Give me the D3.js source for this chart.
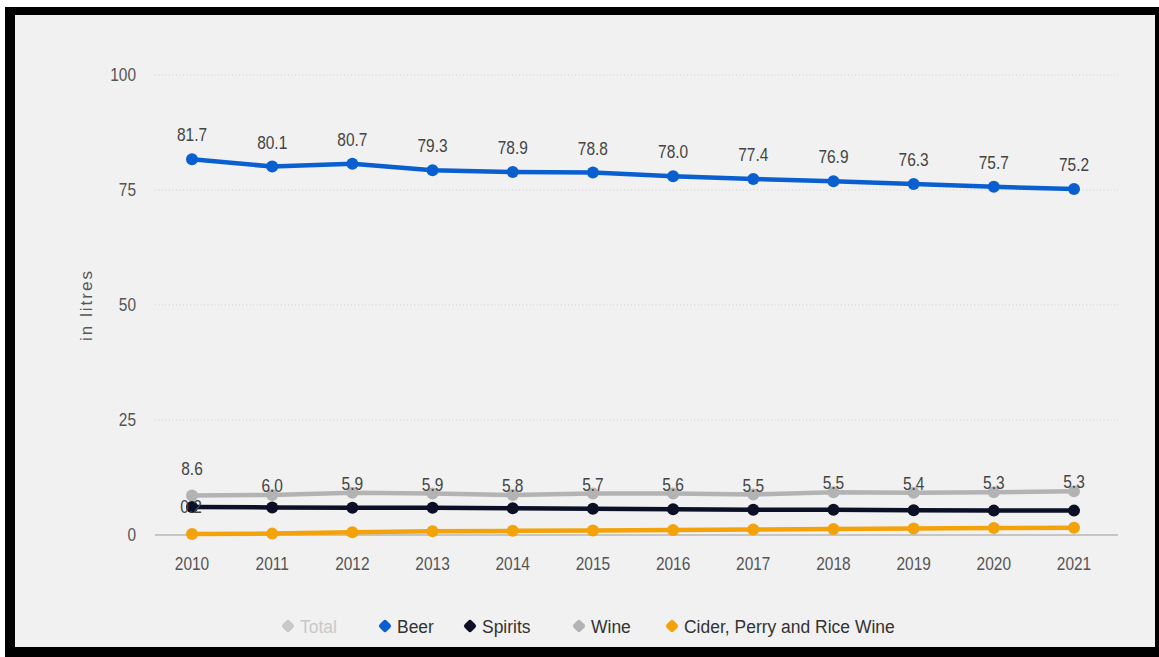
<!DOCTYPE html>
<html>
<head>
<meta charset="utf-8">
<script src="https://cdn.jsdelivr.net/npm/d3@7/dist/d3.min.js"></script>
<style>
  html, body { margin: 0; padding: 0; background: #ffffff; }
  svg { display: block; }
  text { font-family: "Liberation Sans", Arial, sans-serif; }
</style>
</head>
<body>
<svg id="chart" width="1159" height="657"></svg>
<script>
// Per-capita consumption, in litres
const years = [2010, 2011, 2012, 2013, 2014, 2015, 2016, 2017, 2018, 2019, 2020, 2021];
const beer    = [81.7, 80.1, 80.7, 79.3, 78.9, 78.8, 78.0, 77.4, 76.9, 76.3, 75.7, 75.2];
const spirits = [6.1, 6.0, 5.9, 5.9, 5.8, 5.7, 5.6, 5.5, 5.5, 5.4, 5.3, 5.3];
const wine    = [8.6, 8.7, 9.2, 9.0, 8.7, 9.0, 9.0, 8.8, 9.3, 9.2, 9.3, 9.5];
const cider   = [0.2, 0.3, 0.6, 0.8, 0.9, 1.0, 1.1, 1.2, 1.3, 1.4, 1.5, 1.6];
// value labels printed along the lower group of lines
const lowerLabels = ["8.6", "6.0", "5.9", "5.9", "5.8", "5.7", "5.6", "5.5", "5.5", "5.4", "5.3", "5.3"];
const yTicks = [0, 25, 50, 75, 100];
const legendItems = [
  { name: "Total", color: "#c8c8c8", muted: true },
  { name: "Beer", color: "#0a5fd0" },
  { name: "Spirits", color: "#0b1026" },
  { name: "Wine", color: "#b3b3b3" },
  { name: "Cider, Perry and Rice Wine", color: "#f3a20a" }
];

const svg = d3.select("#chart");
const SQUEEZE = 0.86; // horizontal condensing of the label face

// frame
svg.append("rect").attr("x", 5).attr("y", 7).attr("width", 1154).attr("height", 650).attr("fill", "#000");
svg.append("rect").attr("x", 15).attr("y", 15).attr("width", 1140).attr("height", 632).attr("fill", "#f1f1f1");

const x = d3.scalePoint().domain(years).range([192, 1074]);
const y = d3.scaleLinear().domain([0, 100]).range([535, 75]);
const gridLeft = 155, gridRight = 1118;

// condensed text helper
function label(parent, tx, ty, str, opts) {
  const o = Object.assign({ size: 17, fill: "#444", anchor: "middle", sx: SQUEEZE }, opts || {});
  return parent.append("text")
    .attr("transform", "translate(" + tx + "," + ty + ") scale(" + o.sx + ",1)")
    .attr("text-anchor", o.anchor)
    .attr("font-size", o.size)
    .attr("fill", o.fill)
    .text(str);
}

// gridlines
svg.append("g").selectAll("line")
  .data(yTicks.filter(t => t > 0))
  .join("line")
  .attr("x1", gridLeft).attr("x2", gridRight)
  .attr("y1", d => y(d)).attr("y2", d => y(d))
  .attr("stroke", "#cdcdcd").attr("stroke-width", 1.2)
  .attr("stroke-dasharray", "1,2.5");

// baseline
svg.append("line")
  .attr("x1", gridLeft).attr("x2", gridRight)
  .attr("y1", y(0)).attr("y2", y(0))
  .attr("stroke", "#9a9a9a").attr("stroke-width", 1);

// y axis labels
const gy = svg.append("g");
yTicks.forEach(t => label(gy, 136, y(t) + 6, String(t), { size: 18, fill: "#555", anchor: "end" }));

// x axis labels
const gx = svg.append("g");
years.forEach(yr => label(gx, x(yr), 570, String(yr), { size: 18, fill: "#555" }));

// axis title
svg.append("text")
  .attr("transform", "translate(92,305) rotate(-90)")
  .attr("text-anchor", "middle")
  .attr("font-size", 17).attr("fill", "#555")
  .attr("letter-spacing", 2)
  .text("in litres");

const line = d3.line().x((d, i) => x(years[i])).y(d => y(d));

function drawSeries(values, color) {
  const g = svg.append("g");
  g.append("path").datum(values)
    .attr("d", line).attr("fill", "none")
    .attr("stroke", color).attr("stroke-width", 4.5)
    .attr("stroke-linejoin", "round").attr("stroke-linecap", "round");
  g.selectAll("circle").data(values).join("circle")
    .attr("cx", (d, i) => x(years[i])).attr("cy", d => y(d))
    .attr("r", 6).attr("fill", color);
  return g;
}

drawSeries(cider, legendItems[4].color);
drawSeries(wine, legendItems[3].color);
drawSeries(spirits, legendItems[2].color);
drawSeries(beer, legendItems[1].color);

// beer labels
const beerLabels = svg.append("g");
beer.forEach((v, i) => label(beerLabels, x(years[i]), y(v) - 18, v.toFixed(1), { size: 18 }));

// labels along the wine line
const lowLabels = svg.append("g");
lowerLabels.forEach((s, i) => label(lowLabels, x(years[i]), y(wine[i]) - (i === 0 ? 20 : 3), s, { size: 18 }));

// cider 2010 label sitting on the spirits line
label(svg, x(years[0]) - 1, y(spirits[0]) + 6, cider[0].toFixed(1), { size: 18 });

// legend
const legend = svg.append("g").attr("transform", "translate(0,626)");
const legendX = [288, 385, 470, 579, 672];
legendItems.forEach((item, i) => {
  const g = legend.append("g").attr("transform", "translate(" + legendX[i] + ",0)");
  g.append("rect")
    .attr("x", -5).attr("y", -5).attr("width", 10).attr("height", 10)
    .attr("rx", 2.5)
    .attr("transform", "rotate(45)")
    .attr("fill", item.color);
  label(g, 12, 7, item.name, { size: 19, fill: item.muted ? "#c8c8c8" : "#333", anchor: "start", sx: 0.92 });
});
</script>
</body>
</html>
